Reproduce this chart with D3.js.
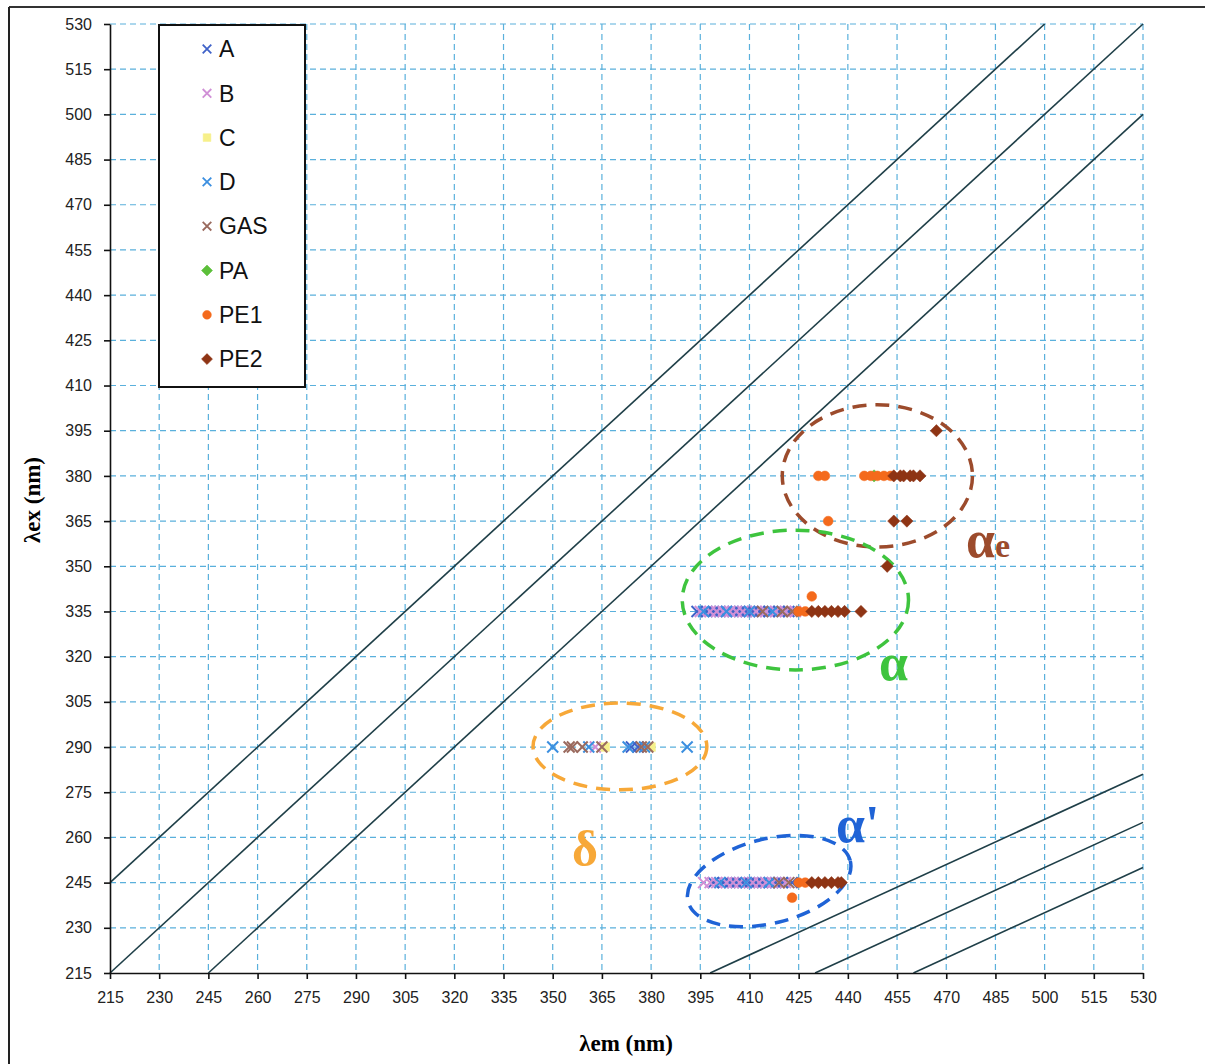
<!DOCTYPE html>
<html>
<head>
<meta charset="utf-8">
<script src="https://cdn.jsdelivr.net/npm/d3@7"></script>
<style>
  body { margin: 0; background: #fff; }
  svg { display: block; font-family: "Liberation Sans", Arial, sans-serif; }
  .grid line { stroke: #5ab0dc; stroke-dasharray: 6,4; stroke-width: 1.2; }
  .axis path, .axis line { stroke: #111; stroke-width: 1.6; }
  .axis text { font-size: 16px; fill: #222; }
</style>
</head>
<body>
<div id="chart"></div>
<script>
// tick values (nm), shared by both axes
const ticks = [215, 230, 245, 260, 275, 290, 305, 320, 335, 350, 365, 380, 395, 410, 425, 440, 455, 470, 485, 500, 515, 530];

// points are [lambda_em, lambda_ex]
const seriesA = [
  [394, 335], [397, 335], [399, 335], [401, 335], [403, 335], [405, 335], [407, 335], [409, 335], [411, 335], [413, 335], [416, 335], [419, 335], [422, 335],
  [399, 245], [402, 245], [404, 245], [406, 245], [408, 245], [410, 245], [412, 245], [414, 245], [416, 245], [418, 245], [420, 245], [423, 245],
  [374, 290], [376, 290]
];
const seriesB = [
  [396, 245], [398, 245], [400, 245], [403, 245], [405, 245], [407, 245], [409, 245], [411, 245], [413, 245], [415, 245], [417, 245], [419, 245], [421, 245],
  [395, 335], [398, 335], [400, 335], [402, 335], [404, 335], [406, 335], [408, 335], [410, 335], [412, 335], [415, 335], [418, 335], [421, 335], [424, 335],
  [363, 290]
];
const seriesC = [[380, 290], [366, 290]];
const seriesD = [
  [350, 290], [361, 290], [373, 290], [378, 290], [391, 290],
  [396, 335], [403, 335], [410, 335], [417, 335],
  [401, 245], [409, 245], [416, 245]
];
const seriesGAS = [
  [355, 290], [356, 290], [359, 290], [365, 290], [377, 290], [379, 290],
  [414, 335], [420, 335], [423, 335],
  [419, 245], [422, 245]
];
const seriesPA = [[448, 380]];
const seriesPE1 = [
  [431, 380], [433, 380], [445, 380], [447, 380], [449, 380], [451, 380], [453, 380],
  [434, 365],
  [425, 335], [427, 335], [429, 340],
  [425, 245], [427, 245], [423, 240]
];
const seriesPE2 = [
  [454, 380], [456, 380], [457, 380], [459, 380], [460, 380], [462, 380],
  [467, 395], [454, 365], [458, 365], [452, 350],
  [429, 335], [431, 335], [433, 335], [435, 335], [437, 335], [439, 335], [444, 335],
  [429, 245], [431, 245], [433, 245], [435, 245], [437, 245], [438, 245]
];

// scatter / Rayleigh lines, [em, ex] end points
const scatterLines = [
  [[215, 245], [500, 530]],
  [[215, 215], [530, 530]],
  [[245, 215], [530, 500]],
  [[398, 215], [530, 281]],
  [[430, 215], [530, 265]],
  [[460, 215], [530, 250]]
];

// cluster ellipses: centre em, centre ex, radius em, radius ex, rotation
const clusterShapes = [
  [449, 380, 29, 23.6, 0],
  [424, 338.8, 34.5, 23.2, 0],
  [370.5, 290.2, 26.5, 14.4, 0],
  [416, 245.5, 25.5, 14, -14]
];

const series = [
  { name: "A", data: seriesA, shape: "x", color: "#3f62c8" },
  { name: "B", data: seriesB, shape: "x", color: "#d08fd6" },
  { name: "C", data: seriesC, shape: "square", color: "#f7f08a" },
  { name: "D", data: seriesD, shape: "x", color: "#3b8fe0" },
  { name: "GAS", data: seriesGAS, shape: "x", color: "#9a6a5e" },
  { name: "PA", data: seriesPA, shape: "diamond", color: "#5cbf3a" },
  { name: "PE1", data: seriesPE1, shape: "circle", color: "#f46a1c" },
  { name: "PE2", data: seriesPE2, shape: "diamond", color: "#8e3414" }
];

const W = 1205, H = 1064;
const x = d3.scaleLinear().domain([215, 530]).range([110, 1143]);
const y = d3.scaleLinear().domain([215, 530]).range([973, 24]);

const svg = d3.select("#chart").append("svg")
  .attr("width", W)
  .attr("height", H);

// outer frame (left and top only)
svg.append("line").attr("x1", 9).attr("x2", W).attr("y1", 7).attr("y2", 7)
  .attr("stroke", "#333").attr("stroke-width", 2);
svg.append("line").attr("x1", 9).attr("x2", 9).attr("y1", 7).attr("y2", H)
  .attr("stroke", "#222").attr("stroke-width", 2);

// grid
svg.append("g").attr("class", "grid")
  .selectAll("line").data(ticks.slice(1)).join("line")
  .attr("x1", d => x(d)).attr("x2", d => x(d))
  .attr("y1", y(530)).attr("y2", y(215));
svg.append("g").attr("class", "grid")
  .selectAll("line").data(ticks.slice(1)).join("line")
  .attr("x1", x(215)).attr("x2", x(530))
  .attr("y1", d => y(d)).attr("y2", d => y(d));

// scatter lines
svg.append("g")
  .selectAll("line").data(scatterLines).join("line")
  .attr("x1", d => x(d[0][0])).attr("y1", d => y(d[0][1]))
  .attr("x2", d => x(d[1][0])).attr("y2", d => y(d[1][1]))
  .attr("stroke", "#1f3f48").attr("stroke-width", 1.6);

// axes
svg.append("g")
  .attr("class", "axis")
  .attr("transform", "translate(0," + y(215) + ")")
  .call(d3.axisBottom(x).tickValues(ticks).tickSize(6).tickPadding(10).tickSizeOuter(0))
  .selectAll("text").attr("dy", "0.9em");
svg.append("g")
  .attr("class", "axis")
  .attr("transform", "translate(" + x(215) + ",0)")
  .call(d3.axisLeft(y).tickValues(ticks).tickSize(6).tickPadding(12).tickSizeOuter(0));

// ellipses
const ellipseColors = ["#9c4b2c", "#3ec43e", "#f7a838", "#1f63d6"];
svg.append("g")
  .selectAll("ellipse").data(clusterShapes).join("ellipse")
  .attr("cx", d => x(d[0])).attr("cy", d => y(d[1]))
  .attr("rx", d => x(d[0] + d[2]) - x(d[0]))
  .attr("ry", d => y(d[1]) - y(d[1] + d[3]))
  .attr("transform", d => "rotate(" + d[4] + "," + x(d[0]) + "," + y(d[1]) + ")")
  .attr("fill", "none")
  .attr("stroke", (d, i) => ellipseColors[i])
  .attr("stroke-width", 3.5)
  .attr("stroke-dasharray", "14,9");

// markers
function symbolFor(shape, size) {
  if (shape === "x") return d3.symbol(d3.symbolX, size)();
  if (shape === "diamond" || shape === "square") return d3.symbol(d3.symbolSquare, size)();
  return d3.symbol(d3.symbolCircle, size)();
}
function rot(shape) {
  return shape === "diamond" ? " rotate(45)" : "";
}

series.forEach(s => {
  const g = svg.append("g");
  g.selectAll("path").data(s.data).join("path")
    .attr("transform", d => "translate(" + x(d[0]) + "," + y(d[1]) + ")" + rot(s.shape))
    .attr("d", symbolFor(s.shape, s.shape === "x" ? 80 : 75))
    .attr("fill", s.shape === "x" ? "none" : s.color)
    .attr("stroke", s.color)
    .attr("stroke-width", s.shape === "x" ? 2 : 0.5);
});

// cluster labels
const labelFont = "'Liberation Serif', 'DejaVu Serif', serif";
const alphaE = svg.append("text").attr("x", 966).attr("y", 557)
  .attr("fill", "#9c4b2c").style("font-family", labelFont).style("font-weight", "bold");
alphaE.append("tspan").text("α").style("font-size", "52px");
alphaE.append("tspan").text("e").style("font-size", "34px");
svg.append("text").attr("x", 879).attr("y", 680).text("α")
  .attr("fill", "#3ec43e").style("font-family", labelFont).style("font-weight", "bold").style("font-size", "52px");
svg.append("text").attr("x", 572).attr("y", 866).text("δ")
  .attr("fill", "#f7a838").style("font-family", labelFont).style("font-weight", "bold").style("font-size", "50px");
svg.append("text").attr("x", 836).attr("y", 842).text("α'")
  .attr("fill", "#1f63d6").style("font-family", labelFont).style("font-weight", "bold").style("font-size", "52px");

// axis titles
svg.append("text")
  .attr("transform", "translate(40,500) rotate(-90)")
  .attr("text-anchor", "middle")
  .style("font-family", labelFont)
  .style("font-size", "23px").style("font-weight", "bold")
  .text("λex (nm)");
svg.append("text")
  .attr("x", 626).attr("y", 1051)
  .attr("text-anchor", "middle")
  .style("font-family", labelFont)
  .style("font-size", "23px").style("font-weight", "bold")
  .text("λem (nm)");

// legend
const legend = svg.append("g").attr("transform", "translate(159,25)");
legend.append("rect").attr("width", 146).attr("height", 362)
  .attr("fill", "#fff").attr("stroke", "#111").attr("stroke-width", 2);
const item = legend.selectAll("g").data(series).join("g")
  .attr("transform", (d, i) => "translate(0," + (24 + i * 44.3) + ")");
item.append("path")
  .attr("transform", d => "translate(48,0)" + rot(d.shape))
  .attr("d", d => symbolFor(d.shape, d.shape === "x" ? 50 : 60))
  .attr("fill", d => d.shape === "x" ? "none" : d.color)
  .attr("stroke", d => d.color)
  .attr("stroke-width", d => d.shape === "x" ? 1.8 : 0.5);
item.append("text")
  .attr("x", 60).attr("dy", "0.36em")
  .style("font-size", "23px").attr("fill", "#111")
  .text(d => d.name);
</script>
</body>
</html>
